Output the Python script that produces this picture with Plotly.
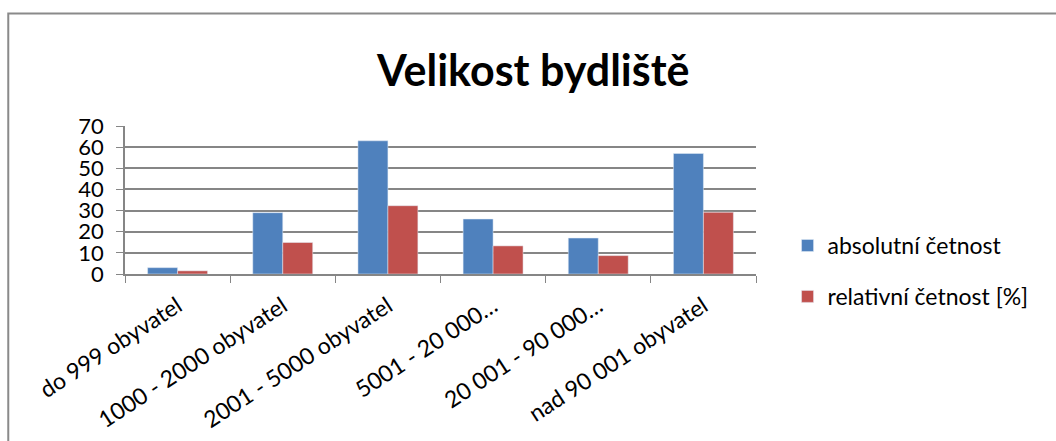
import plotly.graph_objects as go

kategorie = ["do 999 obyvatel", "1000 - 2000 obyvatel", "2001 - 5000 obyvatel",
             "5001 - 20 000…", "20 001 - 90 000…", "nad 90 001 obyvatel"]
absolutni = [3, 29, 63, 26, 17, 57]
relativni = [1.5, 14.9, 32.3, 13.3, 8.7, 29.2]

font = "Lato, 'Open Sans', sans-serif"
grid = "#868686"

fig = go.Figure()
fig.add_trace(go.Bar(x=kategorie, y=absolutni, name="absolutní četnost",
                     marker_color="#4F81BD", legendgroup="a"))
fig.add_trace(go.Bar(x=kategorie, y=relativni, name="relativní četnost [%]",
                     marker_color="#C0504D", legendgroup="b"))

fig.update_layout(
    width=1056, height=441,
    margin=dict(l=125, r=300, t=126, b=167, autoexpand=False),
    paper_bgcolor="white", plot_bgcolor="white",
    font=dict(family=font, color="black", size=22),
    title=dict(text="<b>Velikost bydliště</b>", x=0.505, xanchor="center",
               y=0.84, yanchor="middle", font=dict(size=43, family=font)),
    barmode="group", bargap=0.43, bargroupgap=0,
    legend=dict(x=1.05, y=0.02, xanchor="left", yanchor="middle",
                font=dict(size=23), tracegroupgap=18, itemwidth=30),
    showlegend=True,
)
fig.update_xaxes(type="category", tickangle=-33, tickson="boundaries",
                 ticks="outside", ticklen=7, tickcolor=grid, automargin=False,
                 showline=True, linecolor=grid, linewidth=1.5,
                 ticklabelstandoff=8, tickfont=dict(size=23))
fig.update_yaxes(range=[0, 70], dtick=10, showgrid=True, gridcolor=grid, gridwidth=1.5,
                 ticks="outside", ticklen=7, tickcolor=grid, automargin=False,
                 showline=True, linecolor=grid, linewidth=1.5,
                 ticklabelstandoff=8, tickfont=dict(size=22), zeroline=False)

# chart frame (right and bottom edges fall outside the picture)
fig.add_shape(type="rect", xref="paper", yref="paper",
              x0=-0.185, x1=1.7, y0=-1.3, y1=1.76,
              line=dict(color="#8a8a8a", width=2))

fig.write_html("out.html", config={"displayModeBar": False},
               post_script="document.body.style.margin='0';")
